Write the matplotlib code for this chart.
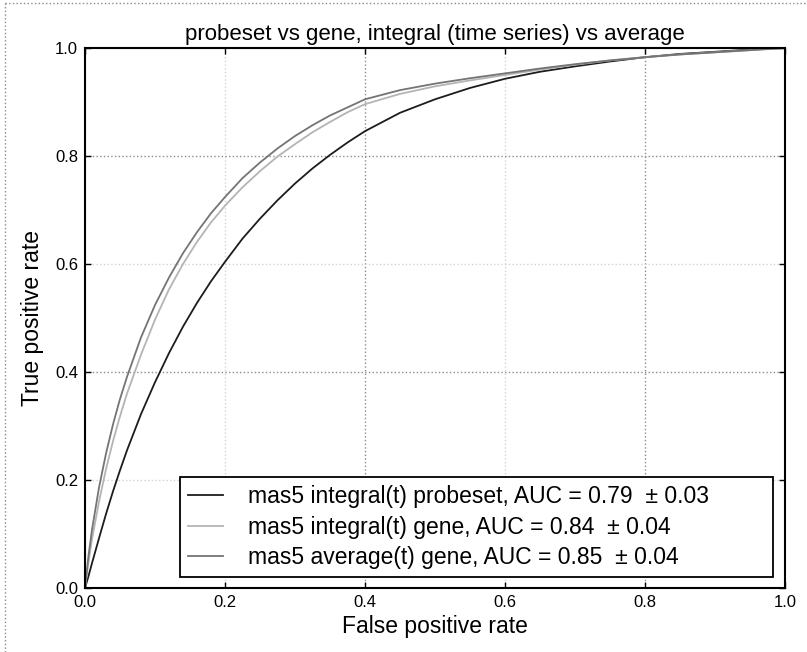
import matplotlib
matplotlib.use("Agg")
import matplotlib.pyplot as plt
from matplotlib.lines import Line2D

plt.rcParams['font.family'] = ['Liberation Sans', 'DejaVu Sans']

title = "probeset vs gene, integral (time series) vs average"
xlabel = "False positive rate"
ylabel = "True positive rate"
ticks = [0.0, 0.2, 0.4, 0.6, 0.8, 1.0]
tick_labels = ["0.0", "0.2", "0.4", "0.6", "0.8", "1.0"]

labels = [
    "mas5 integral(t) probeset, AUC = 0.79  \u00b1 0.03",
    "mas5 integral(t) gene, AUC = 0.84  \u00b1 0.04",
    "mas5 average(t) gene, AUC = 0.85  \u00b1 0.04",
]

fpr = [0, 0.005, 0.01, 0.02, 0.03, 0.04, 0.05, 0.06, 0.08, 0.1, 0.12, 0.14, 0.16, 0.18,
       0.2, 0.225, 0.25, 0.275, 0.3, 0.325, 0.35, 0.375, 0.4, 0.45, 0.5, 0.55, 0.6,
       0.65, 0.7, 0.75, 0.8, 0.85, 0.9, 0.95, 1.0]

tpr_probeset = [0, 0.022, 0.046, 0.092, 0.137, 0.179, 0.218, 0.255, 0.322, 0.381, 0.435,
                0.484, 0.528, 0.568, 0.604, 0.647, 0.684, 0.718, 0.749, 0.777, 0.802,
                0.825, 0.846, 0.880, 0.905, 0.926, 0.943, 0.956, 0.966, 0.975, 0.983,
                0.989, 0.993, 0.997, 1.0]

tpr_int_gene = [0, 0.048, 0.090, 0.160, 0.220, 0.272, 0.318, 0.360, 0.432, 0.497, 0.553,
                0.600, 0.641, 0.677, 0.708, 0.742, 0.772, 0.799, 0.822, 0.844, 0.863,
                0.881, 0.896, 0.915, 0.929, 0.940, 0.950, 0.960, 0.969, 0.977, 0.983,
                0.988, 0.992, 0.996, 1.0]

tpr_avg_gene = [0, 0.060, 0.108, 0.186, 0.249, 0.303, 0.350, 0.391, 0.464, 0.524, 0.575,
                0.620, 0.659, 0.694, 0.724, 0.759, 0.788, 0.814, 0.837, 0.857, 0.875,
                0.890, 0.905, 0.922, 0.934, 0.944, 0.953, 0.962, 0.970, 0.977, 0.983,
                0.988, 0.992, 0.996, 1.0]

colors = ['#1c1c1c', '#b4b4b4', '#747474']

fig = plt.figure(figsize=(8.07, 6.52), dpi=100)
ax = fig.add_axes([85/807, 1-588/652, 700/807, 540/652])

ax.plot(fpr, tpr_probeset, color=colors[0], lw=1.3, label=labels[0])
ax.plot(fpr, tpr_int_gene, color=colors[1], lw=1.3, label=labels[1])
ax.plot(fpr, tpr_avg_gene, color=colors[2], lw=1.3, label=labels[2])

ax.set_xlim(0, 1)
ax.set_ylim(0, 1)
ax.set_xticks(ticks)
ax.set_xticklabels(tick_labels)
ax.set_yticks(ticks)
ax.set_yticklabels(tick_labels)
ax.tick_params(direction='in', top=True, right=True, length=4, width=1,
               labelsize=12, colors='black', pad=5)
ax.grid(True, linestyle=':', color='#9a9a9a', linewidth=1.0)
for i, gl in enumerate(ax.get_xgridlines()):
    gl.set_color('#8c8c8c' if i in (2, 4) else '#d2d2d2')
for i, gl in enumerate(ax.get_ygridlines()):
    gl.set_color('#8c8c8c' if i in (2, 4) else '#d2d2d2')
for s in ax.spines.values():
    s.set_linewidth(1.5)
    s.set_color('black')

ax.set_title(title, fontsize=16, pad=6)
ax.set_xlabel(xlabel, fontsize=16.5, labelpad=4)
ax.set_ylabel(ylabel, fontsize=16.5, labelpad=8)

leg = ax.legend(loc='lower left', bbox_to_anchor=(0.136, 0.02, 0.847, 0.195),
                mode='expand', fontsize=16.5, frameon=True, fancybox=False,
                framealpha=1, edgecolor='black', handlelength=1.5, handletextpad=1.1,
                borderpad=0.35, labelspacing=0.33, borderaxespad=0.0)
leg.get_frame().set_linewidth(1.3)

# figure border (dotted), top and left
fig.add_artist(Line2D([5/807, 1.0], [1-3/652, 1-3/652], transform=fig.transFigure,
                      color='#8a8a8a', lw=1, ls=':'))
fig.add_artist(Line2D([5/807, 5/807], [0, 1-3/652], transform=fig.transFigure,
                      color='#8a8a8a', lw=1, ls=':'))

fig.savefig("out.png", dpi=100)
